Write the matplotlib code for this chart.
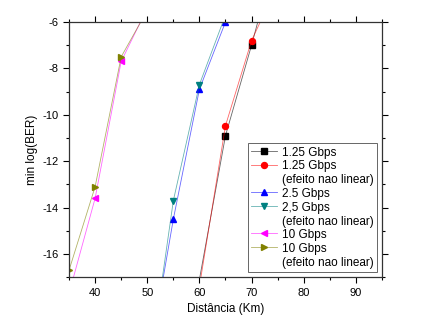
import numpy as np
import matplotlib
matplotlib.use("Agg")
import matplotlib.pyplot as plt
from matplotlib.colors import to_rgba
from matplotlib.ticker import MultipleLocator

plt.rcParams['font.family'] = ['Liberation Sans', 'DejaVu Sans']
plt.rcParams['axes.unicode_minus'] = False

# distance (km) and min log(BER); points outside the window keep the lines going to the edges
x_125 = [60, 65, 70, 75]
y_125 = [-17.1, -10.9, -7.0, -2.8]
x_125nl = [60, 65, 70, 75]
y_125nl = [-17.4, -10.47, -6.8, -4.4]
x_25 = [50, 55, 60, 65]
y_25 = [-21.0, -14.5, -8.9, -6.0]
x_25nl = [50, 55, 60, 65]
y_25nl = [-21.6, -13.7, -8.7, -5.7]
x_10 = [35, 40, 45, 50]
y_10 = [-17.7, -13.6, -7.7, -5.4]
x_10nl = [35, 40, 45, 50]
y_10nl = [-16.7, -13.1, -7.5, -5.5]

series = [
    (x_125, y_125, "1.25 Gbps", "s", "black", 3.8),
    (x_125nl, y_125nl, "1.25 Gbps\n(efeito nao linear)", "o", "red", 4.3),
    (x_25, y_25, "2.5 Gbps", "^", "blue", 4.8),
    (x_25nl, y_25nl, "2,5 Gbps\n(efeito nao linear)", "v", "#008080", 4.8),
    (x_10, y_10, "10 Gbps", "<", "magenta", 4.8),
    (x_10nl, y_10nl, "10 Gbps\n(efeito nao linear)", ">", "#808000", 4.8),
]

fig = plt.figure(figsize=(4.37, 3.28), dpi=100)
ax = fig.add_axes([0.158, 0.155, 0.716, 0.778])

for xs, ys, lab, mk, col, ms in series:
    # only show markers for points inside the visible window
    vis = [i for i, y in enumerate(ys) if -17.05 <= y <= -5.9]
    ax.plot(xs, ys, color=to_rgba(col, 0.6), lw=0.6, marker=mk, ms=ms, mec=col, mfc=col,
            markevery=vis, label=lab)

ax.set_xlim(35, 95)
ax.set_ylim(-17, -6)
ax.xaxis.set_major_locator(MultipleLocator(10))
ax.xaxis.set_minor_locator(MultipleLocator(5))
ax.yaxis.set_major_locator(MultipleLocator(2))
ax.yaxis.set_minor_locator(MultipleLocator(1))
ax.tick_params(which='both', direction='out', top=True, right=True, labelsize=8, width=0.8)
ax.tick_params(which='major', length=4)
ax.tick_params(which='minor', length=2.5)
for s in ax.spines.values():
    s.set_linewidth(0.9)
    s.set_color('#333333')

ax.set_xlabel("Distância (Km)", fontsize=8.5, labelpad=4)
ax.set_ylabel("min log(BER)", fontsize=8.5, labelpad=3)

leg = ax.legend(loc='lower right', fontsize=8.5, frameon=True, fancybox=False,
                edgecolor='#666666', framealpha=1, borderpad=0.3, labelspacing=0.15,
                handlelength=2.2, handletextpad=0.4, borderaxespad=0.4)
leg.get_frame().set_linewidth(0.7)
# put the handle next to the first line of multi-line labels
for col in leg._legend_handle_box.get_children():
    for item in col.get_children():
        item.align = "top"

fig.savefig("out.png", dpi=100)
